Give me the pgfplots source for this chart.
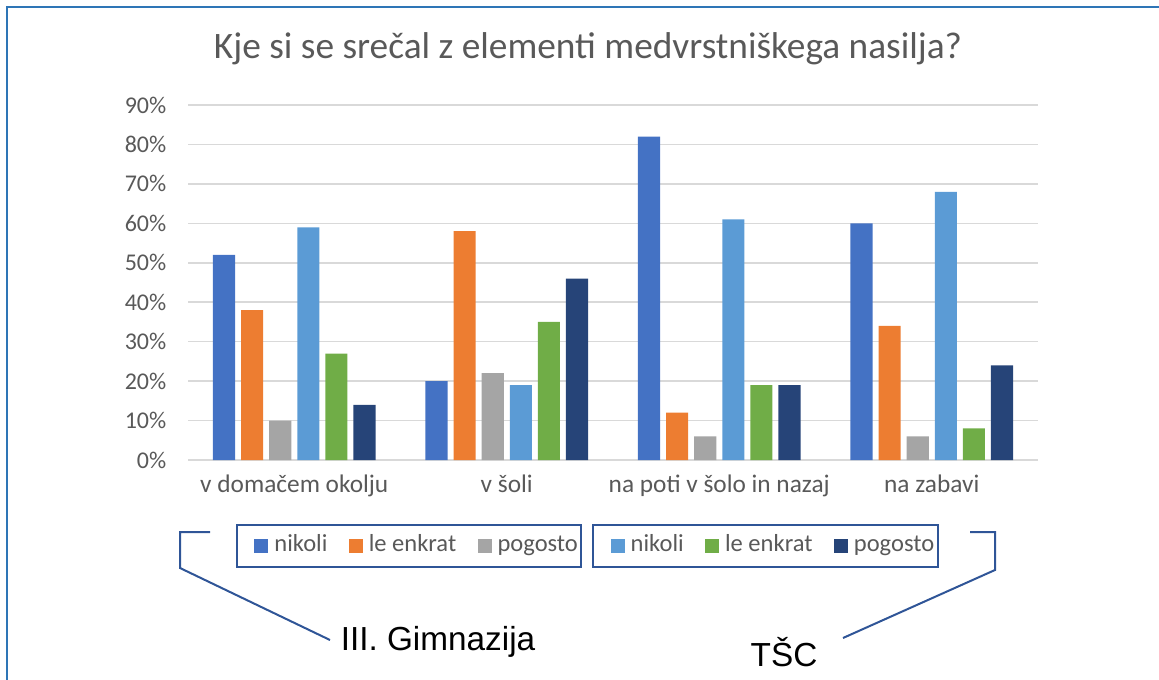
\documentclass[border=0pt]{standalone}
\usepackage{pgfplots}
\pgfplotsset{compat=1.18}
\usepackage{fontspec}
\setmainfont{Carlito}
\newfontfamily\arialfont{Liberation Sans}
\definecolor{cA}{HTML}{4472C4}
\definecolor{cB}{HTML}{ED7D31}
\definecolor{cC}{HTML}{A5A5A5}
\definecolor{cD}{HTML}{5B9BD5}
\definecolor{cE}{HTML}{70AD47}
\definecolor{cF}{HTML}{264478}
\definecolor{txt}{HTML}{595959}
\definecolor{gridc}{HTML}{D9D9D9}
\definecolor{lb}{HTML}{2F5597}
\definecolor{frame}{HTML}{2E75B6}
\pgfplotsset{
  common/.style={
    at={(141pt,-345pt)}, anchor=south west, scale only axis,
    width=637.5pt, height=266.25pt,
    ymin=0, ymax=90, xmin=-0.5, xmax=3.5,
    ybar, bar width=0.104,
    legend image code/.code={\path (-10.5pt,0pt) (15pt,0pt);\fill[##1] (0pt,-5.25pt) rectangle (10.5pt,5.25pt);},
    legend columns=3,
  },
  leg/.style={
    legend style={at={(#1,-0.2423)}, anchor=center, draw=lb, line width=1.5pt,
      font=\fontsize{18.4}{21}\selectfont, text=txt,
      inner xsep=2.5pt, inner ysep=7.5pt,
      nodes={inner xsep=0pt, inner ysep=0pt, text height=12.5pt, text depth=4pt},
      /tikz/every even column/.append style={column sep=5.5pt},
      /tikz/every odd column/.append style={column sep=0pt}},
  }
}
\begin{document}
\begin{tikzpicture}
\useasboundingbox (0,0) rectangle (869.25pt,-510pt);
\draw[frame, line width=1.6pt] (5.25pt,-515pt) -- (5.25pt,-5.25pt) -- (875pt,-5.25pt);
\node[font=\fontsize{28}{32}\selectfont, text=txt, anchor=base] at (441pt,-44.25pt) {Kje si se srečal z elementi medvrstniškega nasilja?};
\begin{axis}[common, leg=0.2602,
  ytick={0,10,...,90}, ymajorgrids, grid style={draw=gridc, line width=1.1pt},
  axis line style={draw=none}, major tick length=0pt,
  xtick={0,1,2,3},
  xticklabels={v domačem okolju, v šoli, na poti v šolo in nazaj, na zabavi},
  xticklabel style={font=\fontsize{19}{22}\selectfont, text=txt, yshift=-8pt},
  yticklabel style={font=\fontsize{18}{21}\selectfont, text=txt, xshift=-12.75pt},
  yticklabel={\pgfmathprintnumber[assume math mode=true]{\tick}\%},
]
\addplot[fill=cA, draw=none, bar shift=-0.3306] coordinates {(0,52) (1,20) (2,82) (3,60)};
\addplot[fill=cB, draw=none, bar shift=-0.1983] coordinates {(0,38) (1,58) (2,12) (3,34)};
\addplot[fill=cC, draw=none, bar shift=-0.0661] coordinates {(0,10) (1,22) (2,6) (3,6)};
\legend{nikoli, le enkrat, pogosto}
\end{axis}
\begin{axis}[common, leg=0.6794, hide axis]
\addplot[fill=cD, draw=none, bar shift=0.0661] coordinates {(0,59) (1,19) (2,61) (3,68)};
\addplot[fill=cE, draw=none, bar shift=0.1983] coordinates {(0,27) (1,35) (2,19) (3,8)};
\addplot[fill=cF, draw=none, bar shift=0.3306] coordinates {(0,14) (1,46) (2,19) (3,24)};
\legend{nikoli, le enkrat, pogosto}
\end{axis}
\draw[lb, line width=1.5pt] (157.5pt,-399pt) -- (135pt,-399pt) -- (135pt,-426pt) -- (247.5pt,-480pt);
\draw[lb, line width=1.5pt] (727.5pt,-399pt) -- (746.25pt,-399pt) -- (746.25pt,-427.5pt) -- (632.25pt,-478.5pt);
\node[font=\arialfont\fontsize{25}{30}\selectfont] at (328.5pt,-481.5pt) {III. Gimnazija};
\node[font=\arialfont\fontsize{25}{30}\selectfont] at (588pt,-489pt) {TŠC};
\end{tikzpicture}
\end{document}
